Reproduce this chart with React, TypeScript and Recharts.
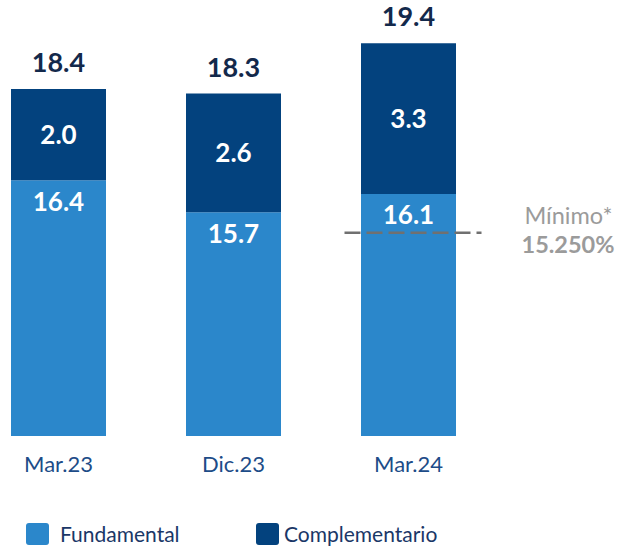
import { BarChart, Bar, XAxis, YAxis, LabelList, ReferenceLine, Legend } from "recharts";

const periods = ["Mar.23", "Dic.23", "Mar.24"];
const fundamental = [16.4, 15.7, 16.1];
const complementario = [2.0, 2.6, 3.3];
const totals = [18.4, 18.3, 19.4];
const minimo = 15.25;
const minimoLabel = "15.250%";
const seriesOrder = ["fundamental", "complementario"];

const data = periods.map((period, i) => ({
  period,
  fundamental: fundamental[i],
  complementario: complementario[i],
  total: totals[i],
}));

const FUND = "#2b87cb";
const COMP = "#03427e";
const FONT = "Lato, 'Open Sans', sans-serif";

const fmt = (v: any) => Number(v).toFixed(1);

function MinimoLine(props: any) {
  const { x1, y1 } = props;
  if (x1 == null || y1 == null) return null;
  return (
    <g>
      <line x1={x1 - 64} x2={x1 + 73} y1={y1} y2={y1} stroke="#707070" strokeWidth={2.5} strokeDasharray="16 6" />
      <text x={x1 + 204} y={y1 - 9} textAnchor="end" fontFamily={FONT} fontSize={23.5} fill="#9b9b9b">
        Mínimo*
      </text>
      <text x={x1 + 206} y={y1 + 20} textAnchor="end" fontFamily={FONT} fontSize={23.5} fontWeight={700} fill="#9b9b9b">
        {minimoLabel}
      </text>
    </g>
  );
}

function LegendContent({ payload }: any) {
  const items = [...(payload ?? [])].sort(
    (a: any, b: any) => seriesOrder.indexOf(a.dataKey) - seriesOrder.indexOf(b.dataKey)
  );
  return (
    <div style={{ display: "flex", fontFamily: FONT, fontSize: 21, lineHeight: "24px", color: "#1a3767" }}>
      {items.map((item: any, i: number) => (
        <div key={item.value} style={{ display: "flex", alignItems: "center", width: i === 0 ? 230 : "auto" }}>
          <span
            style={{
              display: "inline-block",
              width: 23,
              height: 22,
              borderRadius: 3,
              background: item.color,
              marginRight: i === 0 ? 11 : 5,
            }}
          />
          <span>{item.value}</span>
        </div>
      ))}
    </div>
  );
}

export default function App() {
  return (
    <div style={{ position: "absolute", left: 0, top: 0, background: "#fff" }}>
      <BarChart
        width={617}
        height={550}
        data={data}
        margin={{ top: 25, right: 121, bottom: 74, left: -29 }}
        style={{ fontFamily: FONT }}
      >
        <XAxis
          dataKey="period"
          axisLine={false}
          tickLine={false}
          tickSize={0}
          tickMargin={20}
          height={40}
          tick={{ fontSize: 22, fill: "#1d4c88", fontFamily: FONT }}
        />
        <YAxis hide domain={[10.8, 19.8]} allowDataOverflow />
        <Legend
          layout="horizontal"
          verticalAlign="middle"
          align="center"
          wrapperStyle={{ top: 522, left: 26, width: 560, height: 24 }}
          content={<LegendContent />}
        />
        <Bar dataKey="fundamental" name="Fundamental" stackId="a" fill={FUND} barSize={95} isAnimationActive={false}>
          <LabelList
            dataKey="fundamental"
            position="insideTop"
            offset={12}
            formatter={fmt}
            fill="#ffffff"
            fontSize={26}
            fontWeight={700}
            fontFamily={FONT}
          />
        </Bar>
        <Bar dataKey="complementario" name="Complementario" stackId="a" fill={COMP} barSize={95} isAnimationActive={false}>
          <LabelList
            dataKey="complementario"
            position="center"
            formatter={fmt}
            fill="#ffffff"
            fontSize={26}
            fontWeight={700}
            fontFamily={FONT}
          />
          <LabelList
            dataKey="total"
            position="top"
            offset={17}
            formatter={fmt}
            fill="#13294b"
            fontSize={27}
            fontWeight={700}
            fontFamily={FONT}
          />
        </Bar>
        <ReferenceLine
          segment={[
            { x: "Mar.24", y: minimo },
            { x: "Mar.24", y: minimo },
          ]}
          shape={<MinimoLine />}
        />
      </BarChart>
    </div>
  );
}
